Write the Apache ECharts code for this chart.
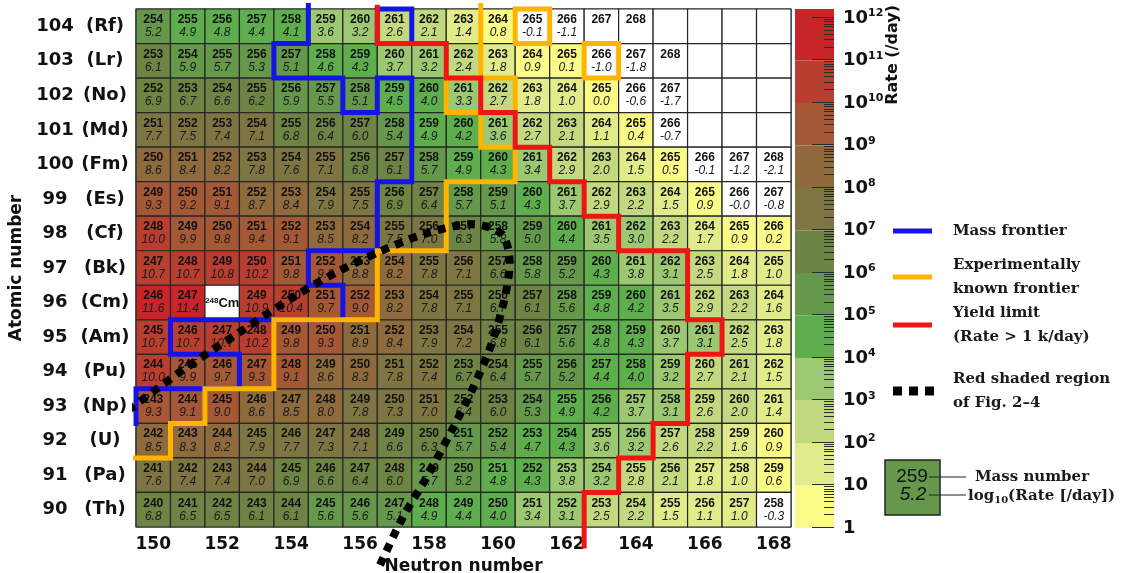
<!DOCTYPE html>
<html>
<head>
<meta charset="utf-8">
<script src="https://cdn.jsdelivr.net/npm/echarts@6/dist/echarts.min.js"></script>
<style>
html, body { margin: 0; padding: 0; background: #fff; }
#chart { width: 1135px; height: 573px; }
</style>
</head>
<body>
<div id="chart"></div>
<script>
// columns (neutron number) and rows (atomic number, top to bottom)
var neutrons = [150, 151, 152, 153, 154, 155, 156, 157, 158, 159, 160, 161, 162, 163, 164, 165, 166, 167, 168];
var atomicNumbers = [104, 103, 102, 101, 100, 99, 98, 97, 96, 95, 94, 93, 92, 91, 90];
var elements = ['Rf', 'Lr', 'No', 'Md', 'Fm', 'Es', 'Cf', 'Bk', 'Cm', 'Am', 'Pu', 'Np', 'U', 'Pa', 'Th'];
var neutronTicks = [150, 152, 154, 156, 158, 160, 162, 164, 166, 168];
var decadeTicks = [0, 1, 2, 3, 4, 5, 6, 7, 8, 9, 10, 11, 12];

// log10(rate [/day]) from N = 150 on; null = nucleus drawn without a rate,
// cells past the end of a row are left empty
var rateRf = [5.2, 4.9, 4.8, 4.4, 4.1, 3.6, 3.2, 2.6, 2.1, 1.4, 0.8, -0.1, -1.1, null, null];
var rateLr = [6.1, 5.9, 5.7, 5.3, 5.1, 4.6, 4.3, 3.7, 3.2, 2.4, 1.8, 0.9, 0.1, -1.0, -1.8, null];
var rateNo = [6.9, 6.7, 6.6, 6.2, 5.9, 5.5, 5.1, 4.5, 4.0, 3.3, 2.7, 1.8, 1.0, 0.0, -0.6, -1.7];
var rateMd = [7.7, 7.5, 7.4, 7.1, 6.8, 6.4, 6.0, 5.4, 4.9, 4.2, 3.6, 2.7, 2.1, 1.1, 0.4, -0.7];
var rateFm = [8.6, 8.4, 8.2, 7.8, 7.6, 7.1, 6.8, 6.1, 5.7, 4.9, 4.3, 3.4, 2.9, 2.0, 1.5, 0.5, -0.1, -1.2, -2.1];
var rateEs = [9.3, 9.2, 9.1, 8.7, 8.4, 7.9, 7.5, 6.9, 6.4, 5.7, 5.1, 4.3, 3.7, 2.9, 2.2, 1.5, 0.9, -0.0, -0.8];
var rateCf = [10.0, 9.9, 9.8, 9.4, 9.1, 8.5, 8.2, 7.5, 7.0, 6.3, 5.8, 5.0, 4.4, 3.5, 3.0, 2.2, 1.7, 0.9, 0.2];
var rateBk = [10.7, 10.7, 10.8, 10.2, 9.8, 9.3, 8.8, 8.2, 7.8, 7.1, 6.6, 5.8, 5.2, 4.3, 3.8, 3.1, 2.5, 1.8, 1.0];
var rateCm = [11.6, 11.4, null, 10.9, 10.4, 9.7, 9.0, 8.2, 7.8, 7.1, 6.7, 6.1, 5.6, 4.8, 4.2, 3.5, 2.9, 2.2, 1.6];
var rateAm = [10.7, 10.7, 10.7, 10.2, 9.8, 9.3, 8.9, 8.4, 7.9, 7.2, 6.8, 6.1, 5.6, 4.8, 4.3, 3.7, 3.1, 2.5, 1.8];
var ratePu = [10.0, 9.9, 9.7, 9.3, 9.1, 8.6, 8.3, 7.8, 7.4, 6.7, 6.4, 5.7, 5.2, 4.4, 4.0, 3.2, 2.7, 2.1, 1.5];
var rateNp = [9.3, 9.1, 9.0, 8.6, 8.5, 8.0, 7.8, 7.3, 7.0, 6.4, 6.0, 5.3, 4.9, 4.2, 3.7, 3.1, 2.6, 2.0, 1.4];
var rateU = [8.5, 8.3, 8.2, 7.9, 7.7, 7.3, 7.1, 6.6, 6.3, 5.7, 5.4, 4.7, 4.3, 3.6, 3.2, 2.6, 2.2, 1.6, 0.9];
var ratePa = [7.6, 7.4, 7.4, 7.0, 6.9, 6.6, 6.4, 6.0, 5.7, 5.2, 4.8, 4.3, 3.8, 3.2, 2.8, 2.1, 1.8, 1.0, 0.6];
var rateTh = [6.8, 6.5, 6.5, 6.1, 6.1, 5.6, 5.6, 5.1, 4.9, 4.4, 4.0, 3.4, 3.1, 2.5, 2.2, 1.5, 1.1, 1.0, -0.3];
var rateRows = [rateRf, rateLr, rateNo, rateMd, rateFm, rateEs, rateCf, rateBk, rateCm, rateAm, ratePu, rateNp, rateU, ratePa, rateTh];

// target nucleus: [N, Z, mass, symbol]
var targetNucleus = [152, 96, '248', 'Cm'];

// one colour per decade of the colour bar, 1 .. 10^12
var decadeColors = ['#fafa86', '#e2eb8a', '#c2d97f', '#9cc872', '#5eae4e', '#65984b',
                    '#6e8444', '#7d7642', '#8f6a3d', '#a45835', '#b93e30', '#c8252b'];

// frontier lines, [N, Z] at the cell corners
var massFrontier = [[154.5, 104.6], [154.5, 103.5], [153.5, 103.5], [153.5, 102.5], [155.5, 102.5],
  [155.5, 101.5], [156.5, 101.5], [156.5, 102.5], [157.5, 102.5], [157.5, 99.5], [156.5, 99.5],
  [156.5, 97.5], [154.5, 97.5], [154.5, 96.5], [155.5, 96.5], [155.5, 95.5], [150.5, 95.5],
  [150.5, 94.5], [152.5, 94.5], [152.5, 93.5], [149.5, 93.5], [149.5, 92.5]];
var massFrontierRf = [[156.5, 103.5], [156.5, 104.5], [157.5, 104.5], [157.5, 103.5], [156.5, 103.5]];
var knownFrontier = [[149.4, 91.5], [150.5, 91.5], [150.5, 92.5], [151.5, 92.5], [151.5, 93.5],
  [153.5, 93.5], [153.5, 95.5], [156.5, 95.5], [156.5, 97.5], [158.5, 97.5], [158.5, 99.5],
  [160.5, 99.5], [160.5, 100.5], [159.5, 100.5], [159.5, 101.5], [158.5, 101.5], [158.5, 102.5],
  [159.5, 102.5], [159.5, 104.6]];
var knownNo262 = [[159.5, 102.5], [160.5, 102.5], [160.5, 101.5], [159.5, 101.5]];
var knownRf265 = [[160.5, 103.5], [160.5, 104.5], [161.5, 104.5], [161.5, 103.5], [160.5, 103.5]];
var knownLr266 = [[162.5, 102.5], [162.5, 103.5], [163.5, 103.5], [163.5, 102.5], [162.5, 102.5]];
var yieldLimit = [[156.5, 104.55], [156.5, 103.5], [158.5, 103.5], [158.5, 102.5], [159.5, 102.5],
  [159.5, 101.5], [160.5, 101.5], [160.5, 100.5], [161.5, 100.5], [161.5, 99.5], [162.5, 99.5],
  [162.5, 98.5], [163.5, 98.5], [163.5, 97.5], [165.5, 97.5], [165.5, 95.5], [166.5, 95.5],
  [166.5, 94.5], [165.5, 94.5], [165.5, 92.5], [164.5, 92.5], [164.5, 91.5], [163.5, 91.5],
  [163.5, 90.5], [162.5, 90.5], [162.5, 88.95]];
var shadedRegion = [[149.27, 92.88], [150.92, 94.09], [152.46, 95.11], [154.05, 96.15], [155.27, 96.85],
  [156.54, 97.46], [157.85, 97.98], [159.24, 98.27], [160.11, 97.98], [160.34, 97.14], [160.2, 96.15],
  [159.82, 94.82], [159.27, 93.51], [158.63, 92.24], [157.96, 90.99], [157.24, 89.78], [156.57, 88.38]];

var legendNames = ['Mass frontier', 'Experimentally known frontier', 'Yield limit', 'Red shaded region'];
var legendTexts = ['Mass frontier', 'Experimentally\nknown frontier', 'Yield limit\n(Rate > 1 k/day)', 'Red shaded region\nof Fig. 2\u20134'];
var sampleCell = [259, 5.2];

var cells = [];
atomicNumbers.forEach(function (z, row) {
    var rates = rateRows[row];
    neutrons.forEach(function (n, col) {
        var kind = col < rates.length ? 1 : 0;
        if (n === targetNucleus[0] && z === targetNucleus[1]) kind = 2;
        cells.push([n, z, col < rates.length ? rates[col] : null, kind]);
    });
});

var cbTop = 12.21;
var sans = '"Liberation Sans", Arial, sans-serif';
var wide = '"DejaVu Sans", sans-serif';
var serif = '"DejaVu Serif", serif';

function rateText(v) {
    return Object.is(v, -0) ? '-0.0' : v.toFixed(1);
}

function renderCell(params, api) {
    var n = api.value(0), z = api.value(1), rate = api.value(2), kind = api.value(3);
    var p = api.coord([n - 0.5, z + 0.5]);
    var s = api.size([1, 1]);
    var cx = p[0] + s[0] / 2, cy = p[1] + s[1] / 2;
    var blank = kind !== 1 || isNaN(rate) || rate < 0 || Object.is(rate, -0);
    var children = [{
        type: 'rect',
        shape: { x: p[0], y: p[1], width: s[0], height: s[1] },
        style: { fill: blank ? '#fff' : api.visual('color'), stroke: '#262626', lineWidth: 1.2 }
    }];
    if (kind === 1) {
        children.push({
            type: 'text',
            style: { text: String(n + z), x: cx, y: cy - 6.5, align: 'center', verticalAlign: 'middle',
                     font: 'bold 12px ' + sans, fill: '#111' }
        });
        if (!isNaN(rate)) {
            children.push({
                type: 'text',
                style: { text: rateText(rate), x: cx, y: cy + 6.5, align: 'center', verticalAlign: 'middle',
                         font: 'italic 12px ' + sans, fill: '#1a1a1a' }
            });
        }
    } else if (kind === 2) {
        children.push({
            type: 'text',
            style: {
                text: '{a|' + targetNucleus[2] + '}{b|' + targetNucleus[3] + '}',
                x: cx, y: cy + 1, align: 'center', verticalAlign: 'middle',
                rich: {
                    a: { fontSize: 8, fontWeight: 'bold', fontFamily: sans, fill: '#111', padding: [0, 0, 6, 0] },
                    b: { fontSize: 13, fontWeight: 'bold', fontFamily: sans, fill: '#111' }
                }
            }
        });
    }
    return { type: 'group', children: children };
}

// one decade of the colour bar, with its log minor ticks
function renderDecade(params, api) {
    var lo = api.value(1);
    var hi = lo === decadeColors.length - 1 ? cbTop : lo + 1;
    var p0 = api.coord([0, lo]), p1 = api.coord([1, hi]);
    var children = [{
        type: 'rect',
        shape: { x: p0[0], y: p1[1], width: p1[0] - p0[0], height: p0[1] - p1[1] },
        style: { fill: decadeColors[lo] }
    }];
    for (var k = 1; k < 10; k++) {
        var y = Math.round(api.coord([1, lo + Math.log10(k)])[1]) - 0.5;
        children.push({
            type: 'line',
            shape: { x1: p1[0] - (k === 1 ? 22 : 10), y1: y, x2: p1[0], y2: y },
            style: { stroke: '#2a2a2a', lineWidth: 1 }
        });
    }
    if (lo === decadeColors.length - 1) {
        var yt = Math.round(api.coord([1, lo + 1])[1]) - 0.5;
        children.push({
            type: 'line',
            shape: { x1: p1[0] - 22, y1: yt, x2: p1[0], y2: yt },
            style: { stroke: '#2a2a2a', lineWidth: 1 }
        });
    }
    return { type: 'group', children: children };
}

function frontier(name, points, color, z) {
    return {
        type: 'line', name: name, data: points, symbol: 'none', clip: false, silent: true, z: z,
        xAxisIndex: 0, yAxisIndex: 0,
        itemStyle: { color: color },
        lineStyle: { color: color, width: 5, cap: 'square', join: 'miter' }
    };
}

function legendAt(name, top, icon, w, h) {
    return {
        data: [name], left: 893, top: top, orient: 'vertical', padding: 0,
        icon: icon, itemWidth: w, itemHeight: h, selectedMode: false,
        formatter: function (nm) { return legendTexts[legendNames.indexOf(nm)]; },
        textStyle: { fontFamily: serif, fontWeight: 'bold', fontSize: 15, lineHeight: 24,
                     color: '#1a1a1a', padding: [0, 0, 0, 55 - w] }
    };
}

var dotted = frontier(legendNames[3], shadedRegion, '#000', 10);
dotted.smooth = 0.3;
dotted.lineStyle = { color: '#000', width: 8, type: [8, 7], cap: 'butt' };

var chart = echarts.init(document.getElementById('chart'));
chart.setOption({
    animation: false,
    backgroundColor: '#fff',
    grid: [
        { left: 136, top: 9, width: 655, height: 518, show: true, borderColor: '#222', borderWidth: 1,
          outerBoundsMode: 'none', containLabel: false },
        { left: 795, top: 9, width: 39, height: 519, outerBoundsMode: 'none', containLabel: false }
    ],
    xAxis: [{
        type: 'value', gridIndex: 0, min: 149.5, max: 168.5,
        name: 'Neutron number', nameLocation: 'middle', nameGap: 28,
        nameTextStyle: { fontFamily: wide, fontWeight: 'bold', fontSize: 17, color: '#111' },
        axisLine: { show: false }, axisTick: { show: false }, splitLine: { show: false },
        axisLabel: { customValues: neutronTicks, margin: 9, fontFamily: wide, fontWeight: 'bold',
                     fontSize: 17, color: '#111' }
    }, {
        type: 'value', gridIndex: 1, min: 0, max: 1, show: false
    }],
    yAxis: [{
        type: 'value', gridIndex: 0, min: 89.5, max: 104.5,
        name: 'Atomic number', nameLocation: 'middle', nameGap: 92, nameRotate: 90,
        nameTextStyle: { fontFamily: wide, fontWeight: 'bold', fontSize: 17, color: '#111' },
        axisLine: { show: false }, axisTick: { show: false }, splitLine: { show: false },
        axisLabel: {
            customValues: atomicNumbers, margin: 10,
            formatter: function (v) {
                return '{n|' + v + '}{s|(' + elements[atomicNumbers.indexOf(v)] + ')}';
            },
            rich: {
                n: { width: 46, align: 'right', fontFamily: wide, fontWeight: 'bold', fontSize: 18, color: '#111' },
                s: { width: 42, align: 'left', padding: [0, 0, 0, 6], fontFamily: wide, fontWeight: 'bold', fontSize: 18, color: '#111' }
            }
        }
    }, {
        type: 'value', gridIndex: 1, min: 0, max: cbTop, position: 'right',
        axisLine: { show: false }, splitLine: { show: false }, axisTick: { show: false },
        axisLabel: {
            customValues: decadeTicks, margin: 9,
            formatter: function (v) {
                return v === 0 ? '{b|1}' : v === 1 ? '{b|10}' : '{b|10}{sup|' + v + '}';
            },
            rich: {
                b: { fontFamily: wide, fontWeight: 'bold', fontSize: 18, color: '#111' },
                sup: { fontFamily: wide, fontWeight: 'bold', fontSize: 11, color: '#111', padding: [0, 0, 9, 0] }
            }
        }
    }],
    visualMap: {
        type: 'piecewise', show: false, seriesIndex: 0, dimension: 2,
        pieces: decadeColors.map(function (c, i) { return { gte: i, lt: i + 1, color: c }; }),
        outOfRange: { color: '#ffffff' }
    },
    legend: [
        legendAt(legendNames[0], 219, 'rect', 39, 5),
        legendAt(legendNames[1], 253, 'rect', 39, 5),
        legendAt(legendNames[2], 301, 'rect', 39, 5),
        legendAt(legendNames[3], 367, 'path://M0,0H9V9H0Z M16,0H25V9H16Z M32,0H41V9H32Z', 41, 9)
    ],
    series: [
        {
            type: 'custom', name: 'cells', data: cells, renderItem: renderCell,
            xAxisIndex: 0, yAxisIndex: 0, encode: { x: 0, y: 1 }, silent: true, z: 2
        },
        {
            type: 'custom', name: 'colorbar', data: decadeColors.map(function (c, i) { return [0, i]; }),
            renderItem: renderDecade, xAxisIndex: 1, yAxisIndex: 1, encode: { x: 0, y: 1 }, silent: true, z: 2
        },
        frontier(legendNames[0], massFrontier, '#1414e6', 6),
        frontier(legendNames[0], massFrontierRf, '#1414e6', 6),
        frontier(legendNames[1], knownFrontier, '#ffb400', 7),
        frontier(legendNames[1], knownNo262, '#ffb400', 7),
        frontier(legendNames[1], knownRf265, '#ffb400', 7),
        frontier(legendNames[1], knownLr266, '#ffb400', 7),
        frontier(legendNames[2], yieldLimit, '#f01414', 8),
        dotted
    ],
    graphic: [
        { type: 'text', x: 893, y: 5, rotation: Math.PI / 2,
          style: { text: 'Rate (/day)', align: 'right', verticalAlign: 'middle',
                   font: 'bold 16px ' + wide, fill: '#111' } },
        { type: 'rect', shape: { x: 885, y: 460, width: 55, height: 55 },
          style: { fill: decadeColors[Math.floor(sampleCell[1])], stroke: '#222', lineWidth: 1.5 } },
        { type: 'text', style: { text: String(sampleCell[0]), x: 912, y: 477, align: 'center', verticalAlign: 'middle',
          font: '19px ' + sans, fill: '#111' } },
        { type: 'text', style: { text: sampleCell[1].toFixed(1), x: 913, y: 495, align: 'center', verticalAlign: 'middle',
          font: 'italic 19px ' + sans, fill: '#111' } },
        { type: 'line', shape: { x1: 929, y1: 477, x2: 966, y2: 477 }, style: { stroke: '#222', lineWidth: 1.2 } },
        { type: 'line', shape: { x1: 929, y1: 495, x2: 966, y2: 495 }, style: { stroke: '#222', lineWidth: 1.2 } },
        { type: 'text', style: { text: 'Mass number', x: 975, y: 477, verticalAlign: 'middle',
          font: 'bold 15px ' + serif, fill: '#1a1a1a' } },
        { type: 'text', style: { text: '{t|log}{s|10}{t|(Rate [/day])}', x: 968, y: 496, verticalAlign: 'middle',
          rich: {
              t: { fontFamily: serif, fontWeight: 'bold', fontSize: 15, fill: '#1a1a1a' },
              s: { fontFamily: serif, fontWeight: 'bold', fontSize: 10, fill: '#1a1a1a', padding: [8, 0, 0, 0] }
          } } }
    ]
});
</script>
</body>
</html>
